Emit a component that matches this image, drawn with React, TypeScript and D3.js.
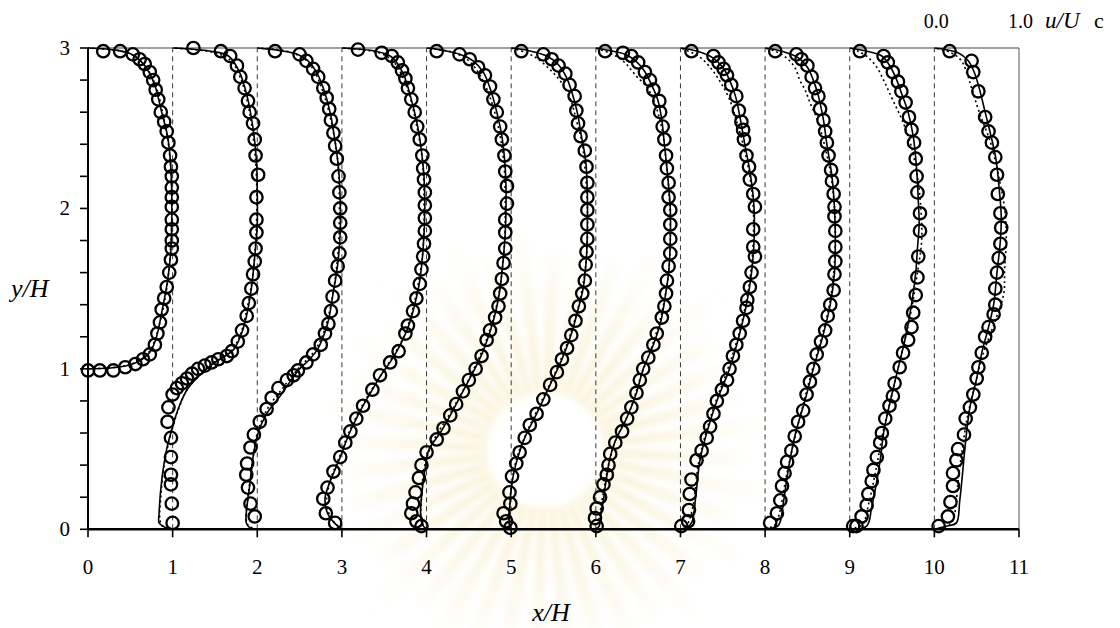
import React from "react";
import * as d3 from "d3";

// ---------- data: stations and profiles (pairs are [y/H, u/Uc]) ----------
const stations = [0, 1, 2, 3, 4, 5, 6, 7, 8, 9, 10];
const xTicks = [0, 1, 2, 3, 4, 5, 6, 7, 8, 9, 10, 11];
const yTicks = [0, 1, 2, 3];
const yMinorTicks = [0.2, 0.4, 0.6, 0.8, 1.2, 1.4, 1.6, 1.8, 2.2, 2.4, 2.6, 2.8];

type P = [number, number][];

const exp0: P = [[2.98,0.18],[2.98,0.38],[2.96,0.53],[2.93,0.61],[2.90,0.67],[2.85,0.73],[2.80,0.77],[2.74,0.80],[2.68,0.83],[2.60,0.86],[2.54,0.90],[2.48,0.93],[2.41,0.95],[2.33,0.97],[2.26,0.98],[2.20,0.99],[2.13,0.99],[2.07,0.99],[2.01,0.99],[1.93,0.99],[1.87,0.99],[1.80,0.99],[1.75,0.99],[1.68,0.98],[1.60,0.96],[1.51,0.93],[1.44,0.90],[1.37,0.87],[1.29,0.85],[1.22,0.82],[1.15,0.79],[1.09,0.73],[1.06,0.65],[1.03,0.56],[1.01,0.44],[0.99,0.30],[0.99,0.14],[0.99,0.0]];
const exp1: P = [[3.0,0.245],[2.98,0.57],[2.95,0.68],[2.89,0.76],[2.82,0.80],[2.75,0.85],[2.67,0.89],[2.60,0.91],[2.53,0.95],[2.43,0.97],[2.33,0.98],[2.21,1.01],[2.07,0.99],[1.93,0.99],[1.85,0.99],[1.75,0.98],[1.67,0.97],[1.59,0.95],[1.50,0.93],[1.41,0.90],[1.33,0.875],[1.24,0.82],[1.17,0.77],[1.11,0.70],[1.08,0.64],[1.06,0.54],[1.04,0.46],[1.02,0.38],[1.00,0.30],[0.97,0.23],[0.94,0.17],[0.91,0.11],[0.88,0.05],[0.84,0.0],[0.76,-0.05],[0.67,-0.06],[0.57,-0.02],[0.45,-0.02],[0.34,-0.02],[0.28,-0.02],[0.16,-0.01],[0.04,0.0]];
const exp2: P = [[2.98,0.21],[2.96,0.50],[2.92,0.58],[2.87,0.66],[2.82,0.72],[2.75,0.78],[2.69,0.82],[2.62,0.85],[2.55,0.87],[2.47,0.90],[2.39,0.92],[2.31,0.94],[2.20,0.96],[2.10,0.97],[2.00,0.98],[1.91,0.98],[1.82,0.98],[1.72,0.97],[1.64,0.95],[1.55,0.92],[1.45,0.89],[1.36,0.87],[1.28,0.84],[1.22,0.80],[1.15,0.75],[1.09,0.66],[1.04,0.58],[0.99,0.48],[0.96,0.43],[0.93,0.35],[0.88,0.25],[0.82,0.17],[0.75,0.11],[0.67,0.03],[0.59,-0.04],[0.51,-0.08],[0.41,-0.12],[0.34,-0.13],[0.26,-0.11],[0.16,-0.08],[0.08,-0.03]];
const exp3: P = [[2.99,0.19],[2.97,0.47],[2.95,0.59],[2.91,0.66],[2.86,0.71],[2.81,0.75],[2.75,0.78],[2.68,0.82],[2.60,0.86],[2.51,0.89],[2.43,0.92],[2.33,0.95],[2.25,0.96],[2.18,0.97],[2.10,0.98],[2.02,0.98],[1.94,0.98],[1.86,0.98],[1.78,0.97],[1.70,0.96],[1.62,0.94],[1.53,0.92],[1.44,0.88],[1.36,0.84],[1.27,0.78],[1.22,0.75],[1.11,0.67],[1.04,0.57],[0.96,0.45],[0.87,0.36],[0.77,0.25],[0.69,0.17],[0.61,0.10],[0.54,0.04],[0.45,-0.02],[0.36,-0.10],[0.26,-0.17],[0.19,-0.22],[0.10,-0.19],[0.04,-0.08]];
const exp4: P = [[2.98,0.12],[2.96,0.39],[2.93,0.51],[2.88,0.61],[2.83,0.69],[2.76,0.75],[2.68,0.79],[2.60,0.83],[2.51,0.87],[2.43,0.89],[2.33,0.92],[2.23,0.93],[2.14,0.95],[2.03,0.95],[1.93,0.93],[1.85,0.93],[1.75,0.93],[1.66,0.91],[1.56,0.89],[1.47,0.87],[1.39,0.85],[1.32,0.81],[1.24,0.75],[1.18,0.71],[1.08,0.65],[1.00,0.58],[0.93,0.50],[0.86,0.43],[0.78,0.35],[0.71,0.28],[0.63,0.20],[0.56,0.12],[0.48,0.0],[0.40,-0.06],[0.32,-0.09],[0.23,-0.13],[0.16,-0.16],[0.10,-0.18],[0.05,-0.12],[0.02,-0.06]];
const exp5: P = [[2.98,0.12],[2.96,0.38],[2.93,0.48],[2.89,0.56],[2.84,0.64],[2.77,0.69],[2.70,0.75],[2.61,0.77],[2.53,0.79],[2.45,0.82],[2.36,0.87],[2.26,0.89],[2.16,0.90],[2.07,0.90],[1.99,0.90],[1.90,0.90],[1.81,0.90],[1.73,0.89],[1.65,0.88],[1.55,0.87],[1.47,0.84],[1.39,0.80],[1.30,0.76],[1.21,0.71],[1.13,0.66],[1.06,0.60],[0.98,0.54],[0.90,0.46],[0.81,0.38],[0.72,0.30],[0.65,0.22],[0.57,0.16],[0.48,0.10],[0.41,0.06],[0.33,0.01],[0.23,-0.02],[0.16,-0.01],[0.10,-0.09],[0.05,-0.06],[0.01,-0.01]];
const exp6: P = [[2.98,0.11],[2.97,0.32],[2.95,0.42],[2.91,0.50],[2.85,0.58],[2.80,0.64],[2.74,0.68],[2.67,0.75],[2.60,0.76],[2.51,0.79],[2.43,0.81],[2.33,0.83],[2.25,0.84],[2.16,0.86],[2.07,0.86],[1.99,0.88],[1.90,0.88],[1.81,0.88],[1.72,0.88],[1.64,0.86],[1.55,0.84],[1.47,0.83],[1.39,0.81],[1.32,0.78],[1.22,0.72],[1.15,0.68],[1.07,0.62],[1.00,0.56],[0.93,0.52],[0.85,0.48],[0.76,0.42],[0.69,0.37],[0.61,0.31],[0.54,0.23],[0.47,0.17],[0.40,0.15],[0.34,0.13],[0.28,0.09],[0.20,0.05],[0.13,0.01],[0.07,-0.01],[0.02,0.01]];
const exp7: P = [[2.98,0.13],[2.95,0.39],[2.91,0.45],[2.87,0.51],[2.83,0.55],[2.77,0.60],[2.70,0.66],[2.61,0.69],[2.54,0.72],[2.49,0.74],[2.43,0.75],[2.33,0.78],[2.26,0.81],[2.18,0.82],[2.09,0.86],[2.01,0.88],[1.87,0.86],[1.76,0.86],[1.70,0.88],[1.60,0.84],[1.51,0.82],[1.43,0.79],[1.38,0.78],[1.30,0.74],[1.22,0.70],[1.15,0.66],[1.08,0.62],[1.00,0.58],[0.93,0.55],[0.87,0.49],[0.80,0.43],[0.72,0.39],[0.64,0.35],[0.57,0.31],[0.49,0.25],[0.43,0.19],[0.31,0.13],[0.22,0.11],[0.12,0.10],[0.05,0.09],[0.02,0.01]];
const exp8: P = [[2.98,0.12],[2.96,0.37],[2.93,0.43],[2.89,0.50],[2.82,0.55],[2.75,0.59],[2.70,0.63],[2.62,0.65],[2.55,0.69],[2.48,0.71],[2.41,0.73],[2.33,0.75],[2.24,0.78],[2.17,0.79],[2.09,0.81],[2.01,0.82],[1.95,0.82],[1.86,0.83],[1.76,0.83],[1.67,0.83],[1.59,0.82],[1.49,0.81],[1.40,0.77],[1.33,0.74],[1.24,0.71],[1.17,0.66],[1.09,0.61],[1.00,0.57],[0.92,0.53],[0.84,0.49],[0.74,0.45],[0.67,0.39],[0.58,0.35],[0.49,0.31],[0.42,0.26],[0.35,0.23],[0.27,0.20],[0.18,0.18],[0.10,0.14],[0.04,0.06]];
const exp9: P = [[2.98,0.12],[2.95,0.40],[2.91,0.45],[2.85,0.51],[2.79,0.57],[2.73,0.61],[2.66,0.66],[2.57,0.70],[2.49,0.73],[2.41,0.76],[2.31,0.78],[2.20,0.79],[2.10,0.80],[1.97,0.83],[1.86,0.83],[1.70,0.81],[1.57,0.80],[1.46,0.78],[1.35,0.75],[1.26,0.73],[1.18,0.69],[1.10,0.63],[1.01,0.59],[0.91,0.53],[0.83,0.51],[0.77,0.47],[0.69,0.42],[0.60,0.38],[0.54,0.36],[0.45,0.32],[0.37,0.28],[0.30,0.26],[0.22,0.22],[0.15,0.20],[0.08,0.14],[0.02,0.08],[0.02,0.04]];
const exp10: P = [[2.98,0.18],[2.92,0.44],[2.85,0.46],[2.73,0.52],[2.57,0.60],[2.48,0.64],[2.41,0.68],[2.32,0.72],[2.21,0.74],[2.09,0.75],[1.97,0.78],[1.88,0.79],[1.78,0.78],[1.69,0.76],[1.60,0.74],[1.50,0.72],[1.40,0.72],[1.34,0.70],[1.26,0.64],[1.20,0.60],[1.10,0.56],[1.01,0.52],[0.94,0.50],[0.84,0.46],[0.76,0.42],[0.69,0.37],[0.59,0.35],[0.50,0.28],[0.43,0.26],[0.35,0.22],[0.27,0.22],[0.17,0.19],[0.08,0.16],[0.02,0.05]];

const solid0: P = [[1,0],[1.002,0.15],[1.01,0.35],[1.025,0.5],[1.06,0.64],[1.11,0.74],[1.2,0.81],[1.35,0.87],[1.55,0.94],[1.75,0.98],[2.0,0.99],[2.25,0.98],[2.45,0.94],[2.6,0.87],[2.75,0.8],[2.85,0.72],[2.92,0.62],[2.96,0.52],[2.985,0.35],[3,0]];
const solid1: P = [[0,0],[0.015,-0.1],[0.04,-0.16],[0.1,-0.16],[0.3,-0.13],[0.5,-0.07],[0.66,0.01],[0.77,0.08],[0.87,0.17],[0.95,0.3],[1.0,0.4],[1.04,0.5],[1.08,0.62],[1.12,0.72],[1.2,0.8],[1.3,0.86],[1.5,0.93],[1.7,0.97],[1.9,1.0],[2.1,1.0],[2.3,0.99],[2.5,0.95],[2.7,0.88],[2.85,0.79],[2.95,0.66],[2.98,0.45],[3,0]];
const solid2: P = [[0,0],[0.01,-0.09],[0.04,-0.13],[0.1,-0.13],[0.27,-0.09],[0.45,-0.05],[0.6,0.01],[0.72,0.11],[0.83,0.27],[0.93,0.4],[1.0,0.5],[1.06,0.62],[1.12,0.71],[1.2,0.78],[1.3,0.84],[1.45,0.89],[1.65,0.95],[1.85,0.98],[2.05,0.98],[2.25,0.96],[2.45,0.91],[2.6,0.86],[2.75,0.78],[2.85,0.7],[2.92,0.6],[2.96,0.48],[2.985,0.25],[3,0]];
const solid3: P = [[0,0],[0.04,-0.09],[0.1,-0.17],[0.19,-0.2],[0.27,-0.16],[0.36,-0.09],[0.45,-0.02],[0.6,0.09],[0.75,0.23],[0.87,0.36],[0.96,0.46],[1.05,0.58],[1.15,0.69],[1.27,0.79],[1.4,0.86],[1.55,0.92],[1.75,0.96],[2.0,0.98],[2.2,0.97],[2.4,0.93],[2.55,0.88],[2.7,0.81],[2.82,0.74],[2.9,0.66],[2.95,0.57],[2.98,0.4],[3,0]];
const solid4: P = [[0,0],[0.03,-0.05],[0.1,-0.07],[0.25,-0.05],[0.4,-0.01],[0.5,0.03],[0.6,0.16],[0.71,0.28],[0.86,0.43],[1.0,0.57],[1.1,0.66],[1.2,0.73],[1.32,0.8],[1.47,0.86],[1.65,0.9],[1.85,0.93],[2.05,0.94],[2.25,0.93],[2.45,0.89],[2.6,0.83],[2.75,0.75],[2.85,0.67],[2.92,0.55],[2.96,0.4],[2.99,0.15],[3,0]];
const solid5: P = [[0,0],[0.03,-0.02],[0.1,-0.02],[0.25,0.0],[0.35,0.03],[0.45,0.08],[0.57,0.16],[0.72,0.3],[0.9,0.46],[1.06,0.6],[1.2,0.7],[1.35,0.78],[1.5,0.85],[1.7,0.89],[1.9,0.9],[2.1,0.9],[2.3,0.88],[2.45,0.83],[2.6,0.78],[2.72,0.72],[2.82,0.65],[2.9,0.55],[2.95,0.42],[2.985,0.2],[3,0]];
const solid6: P = [[0,0],[0.02,0.04],[0.1,0.06],[0.18,0.09],[0.3,0.12],[0.45,0.17],[0.55,0.23],[0.7,0.37],[0.85,0.48],[1.0,0.56],[1.15,0.68],[1.3,0.77],[1.45,0.82],[1.6,0.86],[1.8,0.88],[2.0,0.88],[2.2,0.85],[2.4,0.81],[2.55,0.78],[2.68,0.73],[2.78,0.65],[2.86,0.57],[2.92,0.47],[2.96,0.35],[2.985,0.15],[3,0]];
const solid7: P = [[0,0],[0.02,0.1],[0.05,0.14],[0.2,0.18],[0.43,0.23],[0.6,0.31],[0.8,0.43],[1.0,0.58],[1.2,0.69],[1.4,0.78],[1.6,0.84],[1.8,0.87],[2.0,0.87],[2.2,0.83],[2.4,0.76],[2.55,0.71],[2.7,0.65],[2.8,0.58],[2.88,0.5],[2.94,0.38],[2.98,0.2],[3,0]];
const solid8: P = [[0,0],[0.02,0.15],[0.05,0.18],[0.18,0.22],[0.39,0.28],[0.6,0.36],[0.8,0.47],[1.0,0.57],[1.2,0.68],[1.4,0.77],[1.6,0.82],[1.8,0.83],[2.0,0.82],[2.2,0.79],[2.4,0.73],[2.55,0.69],[2.7,0.63],[2.8,0.57],[2.88,0.5],[2.94,0.39],[2.98,0.2],[3,0]];
const solid9: P = [[0,0],[0.02,0.2],[0.14,0.26],[0.43,0.36],[0.6,0.4],[0.8,0.48],[1.0,0.57],[1.2,0.66],[1.4,0.73],[1.6,0.78],[1.75,0.8],[1.9,0.82],[2.05,0.81],[2.25,0.79],[2.45,0.75],[2.6,0.69],[2.72,0.61],[2.82,0.54],[2.9,0.46],[2.95,0.38],[2.98,0.2],[3,0]];
const solid10: P = [[0,0],[0.02,0.15],[0.04,0.26],[0.18,0.3],[0.5,0.36],[0.6,0.38],[0.76,0.42],[0.94,0.5],[1.1,0.56],[1.26,0.64],[1.4,0.7],[1.6,0.74],[1.8,0.78],[1.95,0.79],[2.1,0.77],[2.3,0.73],[2.45,0.67],[2.6,0.6],[2.75,0.53],[2.85,0.47],[2.92,0.4],[2.97,0.28],[3,0]];

const dot0: P = [[1,0],[1.005,0.2],[1.02,0.45],[1.06,0.63],[1.12,0.74],[1.25,0.83],[1.5,0.93],[1.8,0.98],[2.1,0.99],[2.4,0.95],[2.6,0.88],[2.75,0.81],[2.87,0.7],[2.94,0.58],[2.98,0.4],[3,0]];
const dot1: P = [[0,0],[0.02,-0.12],[0.06,-0.15],[0.2,-0.14],[0.4,-0.1],[0.6,-0.02],[0.75,0.07],[0.86,0.16],[0.95,0.29],[1.02,0.43],[1.07,0.58],[1.12,0.7],[1.2,0.79],[1.35,0.87],[1.6,0.95],[1.9,0.99],[2.2,0.99],[2.45,0.95],[2.65,0.89],[2.8,0.81],[2.92,0.69],[2.97,0.5],[3,0]];
const dot2: P = [[0,0],[0.02,-0.1],[0.06,-0.13],[0.2,-0.11],[0.4,-0.06],[0.6,0.0],[0.75,0.12],[0.88,0.3],[1.0,0.48],[1.1,0.66],[1.22,0.78],[1.4,0.87],[1.7,0.95],[2.0,0.97],[2.3,0.95],[2.55,0.87],[2.72,0.78],[2.85,0.68],[2.93,0.56],[2.98,0.35],[3,0]];
const dot3: P = [[0,0],[0.05,-0.1],[0.15,-0.18],[0.3,-0.14],[0.45,-0.03],[0.6,0.08],[0.8,0.27],[1.0,0.51],[1.2,0.73],[1.4,0.85],[1.7,0.95],[2.0,0.97],[2.3,0.95],[2.55,0.87],[2.72,0.79],[2.84,0.7],[2.92,0.6],[2.97,0.44],[3,0]];
const dot4: P = [[0,0],[0.05,-0.06],[0.2,-0.06],[0.4,-0.02],[0.55,0.08],[0.75,0.31],[1.0,0.56],[1.2,0.72],[1.4,0.83],[1.7,0.91],[2.0,0.93],[2.3,0.91],[2.55,0.83],[2.72,0.73],[2.84,0.62],[2.92,0.5],[2.97,0.33],[3,0]];
const dot5: P = [[0,0],[0.05,-0.03],[0.15,-0.02],[0.3,0.01],[0.45,0.07],[0.6,0.18],[0.8,0.36],[1.0,0.54],[1.2,0.69],[1.4,0.8],[1.6,0.87],[1.8,0.9],[2.0,0.9],[2.2,0.88],[2.4,0.84],[2.55,0.77],[2.68,0.7],[2.78,0.6],[2.86,0.47],[2.93,0.32],[2.97,0.18],[3,0]];
const dot6: P = [[0,0],[0.05,0.03],[0.2,0.08],[0.4,0.15],[0.55,0.23],[0.75,0.41],[0.95,0.53],[1.15,0.67],[1.35,0.78],[1.6,0.86],[1.85,0.88],[2.05,0.87],[2.3,0.83],[2.5,0.78],[2.65,0.7],[2.75,0.61],[2.83,0.47],[2.91,0.34],[2.96,0.2],[3,0]];
const dot7: P = [[0,0],[0.03,0.08],[0.15,0.15],[0.4,0.21],[0.6,0.3],[0.8,0.42],[1.0,0.56],[1.2,0.68],[1.4,0.77],[1.6,0.83],[1.8,0.86],[2.0,0.86],[2.2,0.82],[2.4,0.74],[2.55,0.66],[2.68,0.58],[2.78,0.48],[2.86,0.38],[2.93,0.26],[2.97,0.14],[3,0]];
const dot8: P = [[0,0],[0.03,0.12],[0.1,0.17],[0.3,0.24],[0.5,0.32],[0.8,0.46],[1.0,0.56],[1.2,0.67],[1.4,0.76],[1.6,0.81],[1.8,0.83],[2.0,0.82],[2.2,0.78],[2.4,0.7],[2.55,0.62],[2.66,0.53],[2.73,0.48],[2.8,0.41],[2.88,0.35],[2.94,0.25],[2.98,0.12],[3,0]];
const dot9: P = [[0,0],[0.03,0.15],[0.15,0.22],[0.4,0.32],[0.6,0.39],[0.8,0.48],[1.0,0.57],[1.2,0.66],[1.4,0.74],[1.6,0.8],[1.8,0.85],[2.0,0.84],[2.2,0.8],[2.4,0.72],[2.55,0.62],[2.63,0.55],[2.72,0.47],[2.8,0.4],[2.88,0.32],[2.94,0.22],[2.98,0.1],[3,0]];
const dot10: P = [[0,0],[0.03,0.18],[0.1,0.24],[0.3,0.28],[0.5,0.33],[0.7,0.39],[0.9,0.48],[1.1,0.58],[1.3,0.72],[1.47,0.82],[1.62,0.83],[1.82,0.85],[2.0,0.83],[2.2,0.76],[2.4,0.67],[2.6,0.53],[2.75,0.44],[2.85,0.38],[2.92,0.32],[2.97,0.2],[3,0]];

const expProfiles = [exp0, exp1, exp2, exp3, exp4, exp5, exp6, exp7, exp8, exp9, exp10];
const solidProfiles = [solid0, solid1, solid2, solid3, solid4, solid5, solid6, solid7, solid8, solid9, solid10];
const dotProfiles = [dot0, dot1, dot2, dot3, dot4, dot5, dot6, dot7, dot8, dot9, dot10];

// ---------- layout ----------
const W = 1120, H = 628;
const x = d3.scaleLinear().domain([0, 11]).range([88, 1019]);
const y = d3.scaleLinear().domain([0, 3]).range([529.3, 48]);
const FONT = "'Liberation Serif', 'Times New Roman', 'DejaVu Serif', serif";

function Watermark() {
  const cx = 545, cy = 450;
  const n = 40;
  const rays = d3.range(n).map((i) => {
    const a0 = (i / n) * Math.PI * 2;
    const a1 = a0 + ((Math.PI * 2) / n) * 0.55;
    const r0 = 58, r1 = 200 + (i % 2) * 35;
    const p = d3.path();
    p.moveTo(cx + r0 * Math.cos(a0), cy + r0 * Math.sin(a0));
    p.lineTo(cx + r1 * Math.cos(a0), cy + r1 * Math.sin(a0));
    p.lineTo(cx + r1 * Math.cos(a1), cy + r1 * Math.sin(a1));
    p.lineTo(cx + r0 * Math.cos(a1), cy + r0 * Math.sin(a1));
    p.closePath();
    return p.toString();
  });
  return (
    <g filter="url(#wmblur)">
      <defs>
        <radialGradient id="wm" gradientUnits="userSpaceOnUse" cx={cx} cy={cy} r={235}>
          <stop offset="0.25" stopColor="#f3e0a0" stopOpacity={0.55} />
          <stop offset="0.6" stopColor="#f6e8bc" stopOpacity={0.3} />
          <stop offset="1" stopColor="#fbf3dc" stopOpacity={0} />
        </radialGradient>
        <filter id="wmblur" x="-20%" y="-20%" width="140%" height="140%">
          <feGaussianBlur stdDeviation="3" />
        </filter>
      </defs>
      {rays.map((d, i) => (
        <path key={i} d={d} fill="url(#wm)" />
      ))}
    </g>
  );
}

export default function App() {
  const mk = (st: number, pts: P) =>
    d3
      .line<[number, number]>()
      .x((d) => x(st + d[1]))
      .y((d) => y(d[0]))
      .curve(d3.curveCatmullRom.alpha(0.5))(pts) || "";

  return (
    <svg
      width={W}
      height={H}
      style={{ position: "absolute", left: 0, top: 0, background: "#fff" }}
      fontFamily={FONT}
    >
      <rect x={0} y={0} width={W} height={H} fill="#fff" />
      <Watermark />

      {/* dashed station lines */}
      {stations.slice(1).map((s) => (
        <line key={"g" + s} x1={x(s)} x2={x(s)} y1={y(0)} y2={y(3)} stroke="#222" strokeWidth={0.9} strokeDasharray="5,4" />
      ))}

      {/* frame */}
      <line x1={x(0)} x2={x(11)} y1={y(3)} y2={y(3)} stroke="#808080" strokeWidth={1.3} />
      <line x1={x(11)} x2={x(11)} y1={y(3)} y2={y(0)} stroke="#555" strokeWidth={1} />

      {/* simulation lines */}
      {dotProfiles.map((pts, i) => (
        <path key={"d" + i} d={mk(stations[i], pts)} fill="none" stroke="#000" strokeWidth={1.6} strokeDasharray="2,3" />
      ))}
      {solidProfiles.map((pts, i) => (
        <path key={"s" + i} d={mk(stations[i], pts)} fill="none" stroke="#000" strokeWidth={1.6} />
      ))}

      {/* experimental circles */}
      {expProfiles.map((pts, i) => (
        <g key={"e" + i}>
          {pts.map((d, j) => (
            <circle key={j} cx={x(stations[i] + d[1])} cy={y(d[0])} r={6.2} fill="none" stroke="#000" strokeWidth={2.3} />
          ))}
        </g>
      ))}

      {/* axes */}
      <line x1={x(0)} x2={x(0)} y1={y(0)} y2={y(3)} stroke="#000" strokeWidth={2} />
      <line x1={x(0)} x2={x(11)} y1={y(0)} y2={y(0)} stroke="#000" strokeWidth={2.4} />
      {yTicks.concat(yMinorTicks).map((t) => (
        <line key={"yt" + t} x1={x(0) - 8} x2={x(0)} y1={y(t)} y2={y(t)} stroke="#000" strokeWidth={1.6} />
      ))}
      {xTicks.map((t) => (
        <line key={"xt" + t} x1={x(t)} x2={x(t)} y1={y(0)} y2={y(0) + 8} stroke="#000" strokeWidth={1.6} />
      ))}
      {xTicks.map((t) => (
        <text key={"xl" + t} x={x(t)} y={574} fontSize={21} textAnchor="middle" fill="#000">
          {t}
        </text>
      ))}
      {yTicks.map((t) => (
        <text key={"yl" + t} x={70} y={y(t) + 7} fontSize={21} textAnchor="end" fill="#000">
          {t}
        </text>
      ))}

      {/* titles */}
      <text x={11} y={297} fontSize={26} fontStyle="italic" fill="#000">y/H</text>
      <text x={551} y={621} fontSize={26} fontStyle="italic" textAnchor="middle" fill="#000">x/H</text>

      {/* scale labels */}
      <text x={x(10) + 2} y={28} fontSize={20} textAnchor="middle" fill="#000">0.0</text>
      <text x={1008} y={28} fontSize={20} fill="#000">1.0</text>
      <text x={1045} y={28} fontSize={23} fontStyle="italic" fill="#000">u/U</text>
      <text x={1094} y={28} fontSize={22} fill="#000">c</text>
    </svg>
  );
}
